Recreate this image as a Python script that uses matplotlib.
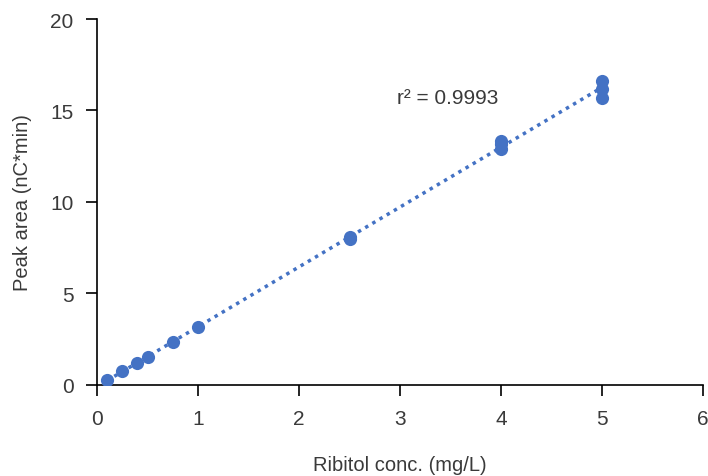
import numpy as np
import matplotlib
matplotlib.use("Agg")
import matplotlib.pyplot as plt

plt.rcParams['font.family'] = ['Liberation Sans', 'DejaVu Sans']

# ribitol calibration data
conc = [0.1, 0.25, 0.4, 0.5, 0.75, 1.0, 2.5, 2.5, 4.0, 4.0, 4.0, 5.0, 5.0, 5.0]
area = [0.25, 0.75, 1.2, 1.5, 2.35, 3.15, 8.0, 8.1, 12.9, 13.15, 13.35, 15.7, 16.2, 16.6]
xticks = [0, 1, 2, 3, 4, 5, 6]
yticks = [0, 5, 10, 15, 20]

blue = '#4472C4'
grey = '#3a3a3a'

fig = plt.figure(figsize=(7.08, 4.77), dpi=100)
ax = fig.add_axes([0.137, 0.191, 0.856, 0.767])

ax.scatter(conc, area, s=90, color=blue, zorder=3, linewidths=0)

# linear fit
k, b = np.polyfit(conc, area, 1)
xf = np.array([min(conc), max(conc)])
ax.plot(xf, k * xf + b, color=blue, lw=2.5, ls=(0, (1, 1.4)), zorder=2)

ax.text(2.97, 15.7, 'r² = 0.9993', fontsize=15, color=grey, va='center')

ax.set_xlim(0, 6)
ax.set_ylim(0, 20)
ax.set_xticks(xticks)
ax.set_yticks(yticks)
ax.tick_params(direction='out', length=8, width=1.2, labelsize=15,
               labelcolor=grey, pad=9)
for s in ['top', 'right']:
    ax.spines[s].set_visible(False)
for s in ['left', 'bottom']:
    ax.spines[s].set_linewidth(1.2)
ax.set_xlabel('Ribitol conc. (mg/L)', fontsize=14.5, color=grey, labelpad=20)
ax.set_ylabel('Peak area (nC*min)', fontsize=14.5, color=grey, labelpad=13)

fig.savefig('out.png', dpi=100)
